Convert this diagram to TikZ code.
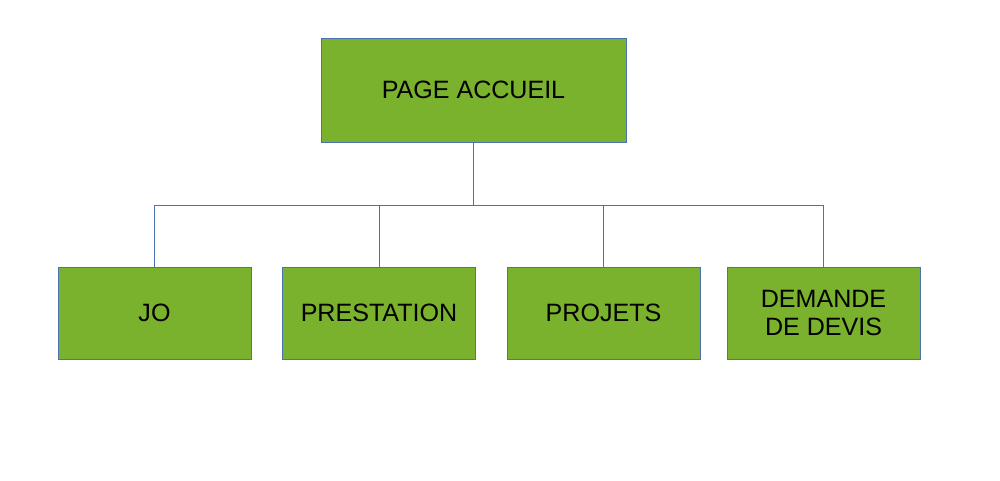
\documentclass[tikz,border=0pt]{standalone}
\usepackage{fontspec}
\setmainfont{Liberation Sans}
\usepackage{tikz}
\usetikzlibrary{calc}

\definecolor{boxgreen}{HTML}{7AB12D}
\definecolor{edgeblue}{HTML}{4A72B0}

\tikzset{
  page/.style={draw=edgeblue,fill=boxgreen,line width=0.75pt,
    font=\fontsize{18.8}{21}\selectfont,align=center,inner sep=0pt},
  toppage/.style={page,minimum width=228.75pt,minimum height=78pt},
  subpage/.style={page,minimum width=144.75pt,minimum height=69pt},
  link/.style={draw=edgeblue,line width=0.75pt}
}

\begin{document}
\begin{tikzpicture}[x=0.75pt,y=-0.75pt]
  \useasboundingbox (0,0) rectangle (1000,480);
  \node [toppage] (accueil) at (473.5,90) {PAGE ACCUEIL};
  \node [subpage] (jo) at (154.5,313) {JO};
  \node [subpage] (prestation) at (379,313) {PRESTATION};
  \node [subpage] (projets) at (603.5,313) {PROJETS};
  \node [subpage] (devis) at (823.5,313) {DEMANDE\\DE DEVIS};
  \coordinate (bus) at (473.5,205);
  \foreach\P in {jo,prestation,projets,devis}
    \draw [link] (accueil.south) -- (accueil.south |- bus) -| (\P.north);
\end{tikzpicture}
\end{document}
